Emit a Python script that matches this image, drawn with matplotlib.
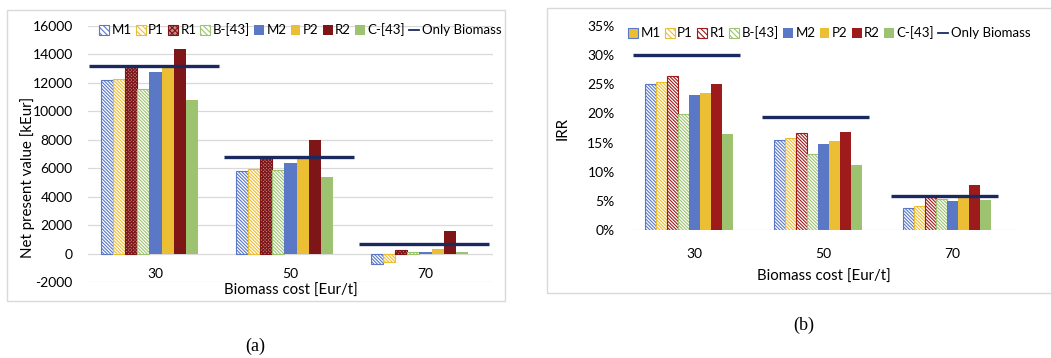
import matplotlib
matplotlib.use("Agg")
import matplotlib.pyplot as plt
from matplotlib.patches import Patch, Rectangle
from matplotlib.lines import Line2D
from matplotlib.ticker import FuncFormatter
import numpy as np

plt.rcParams["font.family"] = ["Lato", "DejaVu Sans"]
plt.rcParams["hatch.linewidth"] = 0.8
plt.rcParams["axes.unicode_minus"] = False

COSTS = ["30", "50", "70"]
SERIES = ["M1", "P1", "R1", "B-[43]", "M2", "P2", "R2", "C-[43]"]

# net present value, kEur
NPV_M1 = [12200, 5800, -700]
NPV_P1 = [12300, 5950, -600]
NPV_R1 = [13100, 6700, 250]
NPV_B43 = [11600, 5900, 120]
NPV_M2 = [12800, 6400, 100]
NPV_P2 = [13100, 6700, 300]
NPV_R2 = [14400, 8000, 1600]
NPV_C43 = [10800, 5400, 100]
NPV_ONLY_BIOMASS = [13200, 6800, 650]

# internal rate of return, %
IRR_M1 = [25.0, 15.4, 3.7]
IRR_P1 = [25.4, 15.7, 4.1]
IRR_R1 = [26.4, 16.7, 5.6]
IRR_B43 = [19.9, 13.0, 5.3]
IRR_M2 = [23.1, 14.8, 5.0]
IRR_P2 = [23.5, 15.2, 5.5]
IRR_R2 = [25.1, 16.8, 7.8]
IRR_C43 = [16.4, 11.2, 5.1]
IRR_ONLY_BIOMASS = [30.0, 19.4, 5.9]

BLUE = "#5B78C6"
YELLOW = "#EBBE34"
GREEN = "#9DC270"
NAVY = "#1B2A5E"
HATCH = "\\" * 10
TICK_FS = 10
LABEL_FS = 10.8


def styles(red, r1_hatched):
    # (face, edge, hatch) per series
    r1 = ("white", red, HATCH) if r1_hatched else ("#C48A8A", red, "x" * 10)
    return [
        ("white", BLUE, HATCH),
        ("white", YELLOW, HATCH),
        r1,
        ("white", GREEN, HATCH),
        (BLUE, "none", None),
        (YELLOW, "none", None),
        (red, "none", None),
        (GREEN, "none", None),
    ]


def draw_bars(ax, data, line_vals, sty, w, lo, hi):
    x = np.arange(len(COSTS))
    for j, vals in enumerate(data):
        face, edge, hatch = sty[j]
        ax.bar(x + (j - 4) * w, vals, w, color=face, edgecolor=edge,
               hatch=hatch, linewidth=0.8 if hatch else 0, zorder=2)
    ax.hlines(line_vals, x + lo, x + hi, color=NAVY, lw=2.4, zorder=3)
    ax.set_xlim(-0.5, len(COSTS) - 0.5)
    ax.set_xticks(x, COSTS)
    for s in ax.spines.values():
        s.set_visible(False)
    ax.tick_params(length=0, labelsize=TICK_FS)


def legend(ax, sty, anchor, m1_handle=None):
    handles = []
    for j, name in enumerate(SERIES):
        face, edge, hatch = sty[j]
        if j == 0 and m1_handle is not None:
            face, edge, hatch = m1_handle
        if hatch:
            hatch = hatch[:6]
        handles.append(Patch(facecolor=face, edgecolor=edge, hatch=hatch,
                             linewidth=0.8 if edge != "none" else 0, label=name))
    handles.append(Line2D([], [], color=NAVY, lw=1.3, label="Only Biomass"))
    ax.legend(handles=handles, ncol=9, loc="center left", bbox_to_anchor=anchor,
              bbox_transform=ax.figure.transFigure, frameon=False, fontsize=9.5,
              handlelength=0.75, handleheight=0.75, handletextpad=0.2,
              columnspacing=0.3, borderpad=0, borderaxespad=0)


fig = plt.figure(figsize=(10.51, 3.58), dpi=100)
W, H = 1051, 358

# panel frames
fig.patches.append(Rectangle((7 / W, 1 - 301 / H), 498 / W, 291 / H,
                             transform=fig.transFigure, fill=False,
                             edgecolor="#D9D9D9", lw=1))
fig.patches.append(Rectangle((547 / W, 1 - 293 / H), 520 / W, 285 / H,
                             transform=fig.transFigure, fill=False,
                             edgecolor="#D9D9D9", lw=1))

# (a) net present value
ax1 = fig.add_axes([88 / W, 1 - 282 / H, 405 / W, 256 / H])
sty1 = styles("#7E1517", False)
draw_bars(ax1, [NPV_M1, NPV_P1, NPV_R1, NPV_B43, NPV_M2, NPV_P2, NPV_R2, NPV_C43],
          NPV_ONLY_BIOMASS, sty1, 0.089, -0.49, 0.47)
ax1.set_ylim(-2000, 16000)
ax1.set_yticks(np.arange(-2000, 16001, 2000))
ax1.grid(axis="y", color="#D9D9D9", lw=0.9, zorder=0)
ax1.set_axisbelow(True)
ax1.tick_params(axis="y", pad=11)
ax1.tick_params(axis="x", pad=-10)
ax1.set_xlabel("Biomass cost [Eur/t]", fontsize=LABEL_FS)
ax1.xaxis.set_label_coords(0.5, -0.008)
ax1.set_ylabel("Net present value [kEur]", fontsize=LABEL_FS)
ax1.yaxis.set_label_coords(-0.13, 0.41)
legend(ax1, sty1, (99 / W, 1 - 30 / H))

# (b) internal rate of return
ax2 = fig.add_axes([630 / W, 1 - 230 / H, 387 / W, 204 / H])
sty2 = styles("#9E1B1C", True)
draw_bars(ax2, [IRR_M1, IRR_P1, IRR_R1, IRR_B43, IRR_M2, IRR_P2, IRR_R2, IRR_C43],
          IRR_ONLY_BIOMASS, sty2, 0.085, -0.48, 0.35)
ax2.set_ylim(0, 35)
ax2.set_yticks(np.arange(0, 36, 5))
ax2.yaxis.set_major_formatter(FuncFormatter(lambda v, _: f"{v:.0f}%"))
ax2.axhline(0, color="#D9D9D9", lw=0.9, zorder=1)
ax2.tick_params(axis="y", pad=11)
ax2.tick_params(axis="x", pad=13)
ax2.set_xlabel("Biomass cost [Eur/t]", fontsize=LABEL_FS, labelpad=7)
ax2.set_ylabel("IRR", fontsize=LABEL_FS)
ax2.yaxis.set_label_coords(-0.155, 0.5)
legend(ax2, sty2, (628 / W, 1 - 33 / H), m1_handle=(YELLOW, BLUE, None))

fig.text(255 / W, 1 - 346 / H, "(a)", ha="center", va="center",
         family="Liberation Serif", fontsize=13)
fig.text(804 / W, 1 - 325 / H, "(b)", ha="center", va="center",
         family="Liberation Serif", fontsize=13)

fig.savefig("out.png", dpi=100)
